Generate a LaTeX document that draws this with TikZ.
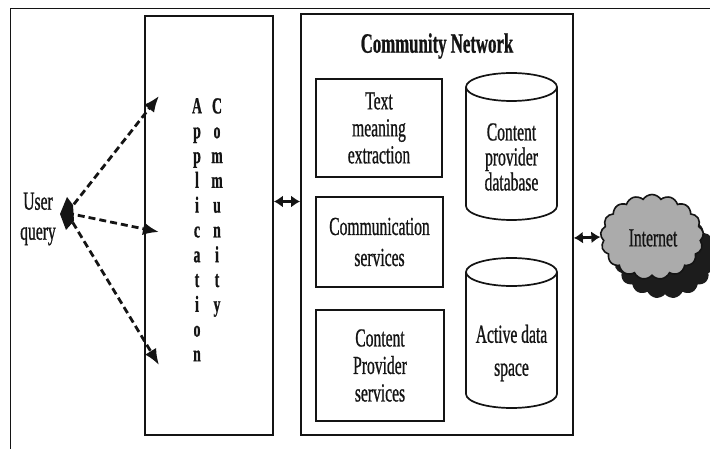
\documentclass[tikz,border=0pt]{standalone}
\usepackage{fontspec}
\setmainfont{Liberation Serif}[FakeStretch=0.6, FakeBold=0.8]
\usetikzlibrary{arrows.meta,shapes.symbols}
\definecolor{ink}{HTML}{141414}
\definecolor{cloudgray}{HTML}{ABABAB}
\definecolor{shade}{HTML}{1C1C1C}
\tikzset{
  lbl/.style={text=ink, align=center, inner sep=0pt, font=\fontsize{26}{27}\selectfont},
  letters/.style={text=ink, align=center, inner sep=0pt, font=\bfseries\fontsize{23}{24.8}\selectfont},
  panel/.style={draw=ink, line width=1.7pt, inner sep=0pt, align=center, text=ink,
                font=\fontsize{26}{27}\selectfont},
  inbox/.style={panel, line width=2.1pt},
  drum/.style={draw=ink, line width=1.7pt, fill=white},
  dbl/.style={draw=ink, line width=2.8pt,
              {Latex[length=9pt,width=12pt]}-{Latex[length=9pt,width=12pt]}},
  query/.style={draw=ink, line width=2.8pt, dash pattern=on 7pt off 4pt,
                -{Latex[length=16pt,width=13pt]}},
  puffy/.style={cloud, cloud puffs=17, cloud puff arc=115, aspect=1.25,
                minimum width=103pt, minimum height=85pt, inner sep=0pt},
}
\begin{document}
\begin{tikzpicture}[x=1pt,y=-1pt]
\useasboundingbox (0,0) rectangle (710,449);
\clip (0,0) rectangle (710,449);

% page frame
\draw[line width=1.5pt, draw=ink] (10.5,449) -- (10.5,8.5) -- (710,8.5);

% application community column
\node[panel, minimum width=128pt, minimum height=419pt] (app) at (209,225.5) {};
\node[letters, anchor=north] (appword) at (197,98) {A\\p\\p\\l\\i\\c\\a\\t\\i\\o\\n};
\node[letters, anchor=north] (comword) at (217,98) {C\\o\\m\\m\\u\\n\\i\\t\\y};

% user query and its requests
\node[lbl, font=\fontsize{26}{30}\selectfont] (user) at (38,219) {User\\query};
\coordinate (src) at (67,213);
\fill[ink] (60,214) -- (67,197) -- (73,205) -- (74,221) -- (66,230) -- cycle;
\coordinate (req1) at (159,96);
\coordinate (req2) at (159,232);
\coordinate (req3) at (159,365);
\draw[query] (src) -- (req1);
\draw[query] (src) -- (req2);
\draw[query] (src) -- (req3);

% community network
\node[panel, minimum width=272pt, minimum height=421pt] (cn) at (437,224.5) {};
\node[lbl, font=\bfseries\fontsize{28}{30}\selectfont] (title) at (437,46) {Community Network};

\node[inbox, minimum width=126pt, minimum height=98pt] (tme) at (379,128)
  {Text\\meaning\\extraction};
\node[inbox, minimum width=127pt, minimum height=90pt, font=\fontsize{26}{31}\selectfont]
  (comm) at (379.5,242) {Communication\\services};
\node[inbox, minimum width=128pt, minimum height=111pt, font=\fontsize{26}{27.5}\selectfont]
  (cps) at (380,365.5) {Content\\Provider\\services};

% content provider database
\draw[drum] (466,87) -- (466,206)
  .. controls (466,213.73) and (486.37,220) .. (511.5,220)
  .. controls (536.63,220) and (557,213.73) .. (557,206) -- (557,87);
\draw[drum] (511.5,87) ellipse [x radius=45.5pt, y radius=14pt];
\node[lbl, font=\fontsize{26}{25}\selectfont] (cpdb) at (511.5,157)
  {Content\\provider\\database};

% active data space
\draw[drum] (466,272) -- (466,394)
  .. controls (466,401.73) and (486.37,408) .. (511.5,408)
  .. controls (536.63,408) and (557,401.73) .. (557,394) -- (557,272);
\draw[drum] (511.5,272) ellipse [x radius=45.5pt, y radius=14pt];
\node[lbl, font=\fontsize{26}{33}\selectfont] (ads) at (511.5,353)
  {Active data\\space};

% internet
\node[puffy, fill=shade] (cloudshade) at (665,256) {};
\node[puffy, fill=cloudgray, draw=ink, line width=1.6pt] (cloud) at (652,237) {};
\node[lbl] (net) at (653,238) {Internet};

% links between the parts
\draw[dbl] ([yshift=24pt]app.east) -- ([yshift=24pt]app.east -| cn.west);
\draw[dbl] ([yshift=-13.5pt]cn.east) -- (cloud.west);
\end{tikzpicture}
\end{document}
